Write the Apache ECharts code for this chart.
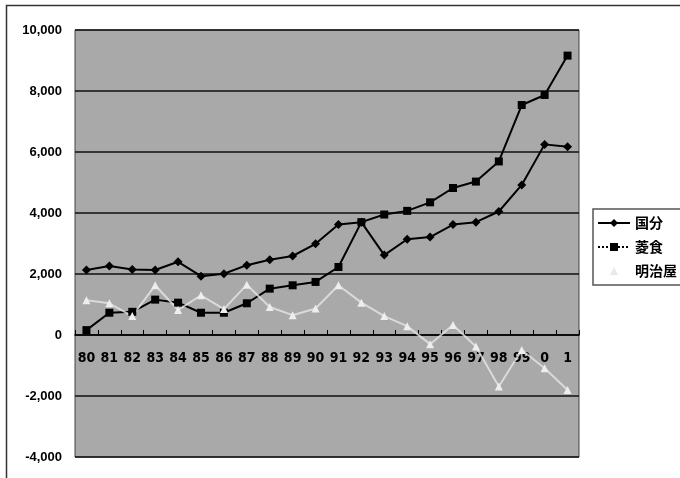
<!DOCTYPE html>
<html>
<head>
<meta charset="utf-8">
<script src="https://cdn.jsdelivr.net/npm/echarts@6/dist/echarts.min.js"></script>
<style>
  html, body { margin: 0; padding: 0; background: #fff; }
  #main { width: 680px; height: 478px; }
</style>
</head>
<body>
<div id="main"></div>
<script>
  // 年度 (80年〜01年)
  const years = ['80', '81', '82', '83', '84', '85', '86', '87', '88', '89', '90',
    '91', '92', '93', '94', '95', '96', '97', '98', '99', '0', '1']

  const kokubun = [2130, 2260, 2150, 2130, 2400, 1930, 2010, 2290, 2470, 2590, 2990,
    3620, 3700, 2620, 3140, 3210, 3620, 3700, 4050, 4920, 6250, 6170]
  const ryoshoku = [160, 730, 760, 1160, 1060, 730, 730, 1040, 1520, 1630, 1740,
    2230, 3700, 3950, 4070, 4350, 4820, 5030, 5690, 7540, 7870, 9160]
  const meijiya = [1140, 1040, 620, 1630, 820, 1300, 850, 1650, 920, 650, 870,
    1630, 1060, 620, 290, -300, 330, -380, -1690, -490, -1090, -1800]

  const seriesNames = ['国分', '菱食', '明治屋']

  const yMin = -4000
  const yMax = 10000
  const gridTop = 30
  const gridBottom = 21
  const plotH = 478 - gridTop - gridBottom
  // x軸を0の位置に移動させるためのオフセット
  const zeroOffset = -Math.round(plotH * (0 - yMin) / (yMax - yMin))

  const chart = echarts.init(document.getElementById('main'))
  chart.setOption({
    backgroundColor: '#fff',
    animation: false,
    textStyle: { fontFamily: 'Liberation Sans, Arial, sans-serif' },
    graphic: [
      // 外枠
      {
        type: 'rect',
        shape: { x: 6.5, y: 5.5, width: 700, height: 500 },
        style: { fill: 'none', stroke: '#333', lineWidth: 1.5 },
        silent: true
      }
    ],
    grid: {
      left: 75,
      right: 101,
      top: gridTop,
      bottom: gridBottom,
      containLabel: false,
      outerBoundsMode: 'none',
      show: true,
      backgroundColor: '#a9a9a9',
      borderColor: '#444',
      borderWidth: 1
    },
    legend: {
      left: 593,
      top: 209,
      orient: 'vertical',
      itemWidth: 32,
      itemHeight: 10,
      itemGap: 10,
      padding: [7, 12, 7, 4],
      borderColor: '#555',
      borderWidth: 1.5,
      backgroundColor: '#fff',
      textStyle: {
        fontFamily: 'Noto Sans CJK JP',
        fontWeight: 'bold',
        fontSize: 14,
        color: '#000'
      },
      data: [
        { name: '国分' },
        { name: '菱食', lineStyle: { type: 'dotted' } },
        { name: '明治屋', itemStyle: { color: '#e8e8e8', borderColor: '#ccc' }, lineStyle: { color: '#fff', opacity: 0 } }
      ]
    },
    xAxis: {
      type: 'category',
      data: years,
      boundaryGap: true,
      offset: zeroOffset,
      axisLine: { onZero: false, lineStyle: { color: '#000', width: 1.5 } },
      axisTick: { show: true, inside: true, length: 5, lineStyle: { color: '#000' } },
      axisLabel: {
        margin: 16,
        color: '#000',
        fontSize: 14,
        fontWeight: 'bold',
        fontFamily: 'Liberation Sans Narrow, DejaVu Sans Condensed, sans-serif'
      },
      splitLine: { show: false }
    },
    yAxis: {
      type: 'value',
      min: yMin,
      max: yMax,
      interval: 2000,
      axisLine: { show: false },
      axisTick: { show: false },
      axisLabel: {
        margin: 13,
        color: '#000',
        fontSize: 13,
        fontWeight: 'bold',
        formatter: v => v.toLocaleString('en-US')
      },
      splitLine: { show: true, lineStyle: { color: '#111', width: 1.5 } }
    },
    series: [
      {
        name: seriesNames[0],
        type: 'line',
        data: kokubun,
        symbol: 'diamond',
        symbolSize: 9,
        itemStyle: { color: '#000' },
        lineStyle: { color: '#000', width: 2 }
      },
      {
        name: seriesNames[1],
        type: 'line',
        data: ryoshoku,
        symbol: 'rect',
        symbolSize: 8,
        itemStyle: { color: '#000' },
        lineStyle: { color: '#000', width: 2 }
      },
      {
        name: seriesNames[2],
        type: 'line',
        data: meijiya,
        symbol: 'triangle',
        symbolSize: 8,
        itemStyle: { color: '#eeeeee' },
        lineStyle: { color: '#e6e6e6', width: 2, opacity: 0.8 }
      }
    ]
  })
</script>
</body>
</html>
